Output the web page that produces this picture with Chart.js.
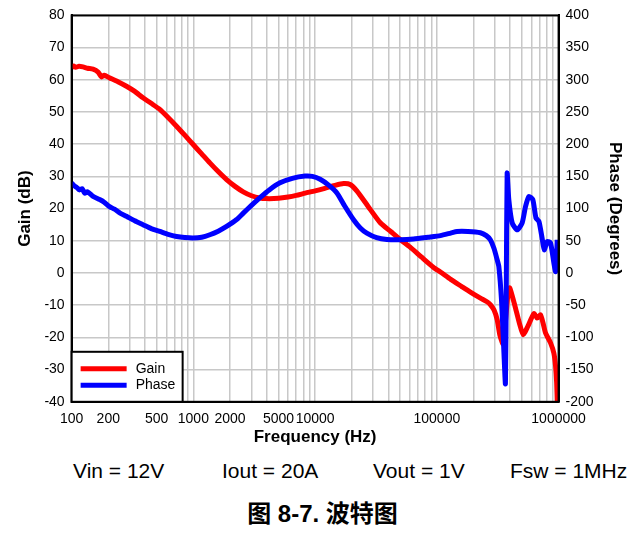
<!DOCTYPE html>
<html>
<head>
<meta charset="utf-8">
<script src="https://cdn.jsdelivr.net/npm/chart.js@4"></script>
<style>
  body { margin: 0; background: #fff; }
  #wrap { position: relative; width: 641px; height: 540px; font-family: "Liberation Sans", Arial, sans-serif; color: #000; }
  #chartBox { position: absolute; left: 0; top: 0; width: 641px; height: 450px; }
  .cond { position: absolute; top: 460px; font-size: 21px; line-height: 21px; white-space: nowrap; }
  #caption { position: absolute; left: 0; top: 502px; width: 645px; text-align: center; font-weight: bold;
             font-size: 24px; line-height: 24px; font-family: "Liberation Sans", "Noto Sans CJK SC", sans-serif; }
</style>
</head>
<body>
<div id="wrap">
  <div id="chartBox"><canvas id="bode"></canvas></div>
  <div class="cond" style="left:73px">Vin = 12V</div>
  <div class="cond" style="left:222px">Iout = 20A</div>
  <div class="cond" style="left:373px">Vout = 1V</div>
  <div class="cond" style="left:510px">Fsw = 1MHz</div>
  <div id="caption">图 8-7. 波特图</div>
</div>
<script>
// Gain curve (Hz, dB)
const gainFreq = [100, 104, 108, 115, 124, 135, 150, 165, 176, 185, 205, 240, 282, 330, 386, 450, 530, 620, 727, 850,
  996, 1170, 1366, 1600, 1874, 2200, 2570, 3000, 3500, 4000, 5000, 6000, 7000, 8300, 10000, 12000, 14500, 17100,
  19400, 22000, 27000, 34300, 42000, 50000, 60000, 75000, 93500, 107000, 130000, 160000, 190000, 228000, 260000,
  275000, 295000, 313000, 329000, 350000, 385000, 397000, 440000, 480000, 512000, 560000, 627000, 667000, 711000,
  745000, 781000, 859000, 915000, 945000, 964000, 975000];
const gainDb = [63.8, 64.3, 63.9, 64.2, 64.0, 63.6, 63.3, 62.4, 60.9, 61.4, 60.6, 59.4, 58.0, 56.4, 54.4, 52.7, 50.8, 48.3, 45.6, 42.8,
  39.9, 37.0, 34.2, 31.5, 29.0, 26.9, 25.2, 24.0, 23.3, 23.1, 23.2, 23.6, 24.1, 24.8, 25.5, 26.3, 27.2, 27.8,
  27.5, 25.5, 20.9, 15.6, 12.8, 10.4, 8.1, 4.9, 1.8, 0.3, -2.0, -4.2, -6.0, -7.8, -9.0,
  -9.8, -11.5, -14.5, -19.2, -22.0, -6.0, -4.6, -10.5, -16.0, -19.2, -16.5, -12.6, -14.0, -13.0,
  -15.5, -18.6, -21.7, -24.9, -29.0, -34.0, -40.0];

// Phase curve (Hz, degrees)
const phaseFreq = [100, 104, 110, 116, 122, 128, 135, 150, 170, 185, 205, 225, 250, 282, 330, 386, 450, 530, 620, 727,
  850, 996, 1170, 1366, 1600, 1874, 2265, 2570, 3000, 3526, 4200, 5150, 6500, 8270, 9500, 11000, 13000, 15100,
  17500, 20700, 23500, 26600, 32000, 38900, 50000, 64400, 85000, 107000, 130000, 146600, 180000, 228000, 255000,
  275000, 295000, 313000, 323000, 339600, 354800, 366000, 372000, 378000, 390000, 416000, 457000, 502000, 535000,
  570000, 614000, 652000, 690000, 732000, 762000, 808000, 859000, 915000, 945000, 975000];
const phaseDeg = [140, 136, 133, 129, 131, 124, 126, 119, 114, 110, 103, 99, 93, 88, 81, 75, 69, 64.5, 60, 56.7,
  55, 54.3, 55.5, 59.4, 65, 72.3, 83, 93, 105, 117, 129, 140, 147, 150.5, 150, 145.5, 136, 124.3,
  104, 82.7, 70, 62, 55, 52, 51.6, 52.7, 55.5, 58, 62, 64.5, 64.5, 62.5, 58,
  51.6, 38, 20.5, 10, -41.7, -119, -172, -20, 155, 114, 77.6, 67, 77.6, 103,
  118.6, 114, 85.4, 80, 54.3, 36, 49, 46.5, 15.4, 2.3, 51.6];

const xTickLabels = [100, 200, 500, 1000, 2000, 5000, 10000, 100000, 1000000];
const legendNames = ['Gain', 'Phase'];
const lineColors = ['#ff0000', '#0000ff'];

const gridColor = '#c8c8c8';
const font14 = { family: '"Liberation Sans", Arial, sans-serif', size: 14 };
const titleFont = { family: '"Liberation Sans", Arial, sans-serif', size: 17, weight: 'bold' };

// frame around plot + boxed legend at lower left
const framePlugin = {
  id: 'frameAndLegend',
  afterDatasetsDraw(chart) {
    const { ctx, chartArea: a } = chart;
    ctx.save();
    ctx.strokeStyle = '#000';
    ctx.lineWidth = 2;
    ctx.strokeRect(a.left, a.top, a.right - a.left, a.bottom - a.top);

    const bx = a.left, by = a.bottom - 50, bw = 111, bh = 50;
    ctx.fillStyle = '#fff';
    ctx.fillRect(bx, by, bw, bh);
    ctx.strokeRect(bx, by, bw, bh);
    ctx.font = '14px "Liberation Sans", Arial, sans-serif';
    ctx.textBaseline = 'middle';
    legendNames.forEach((name, i) => {
      const y = by + 17 + i * 16.5;
      ctx.strokeStyle = lineColors[i];
      ctx.lineWidth = 5;
      ctx.beginPath();
      ctx.moveTo(bx + 9, y);
      ctx.lineTo(bx + 55, y);
      ctx.stroke();
      ctx.fillStyle = '#000';
      ctx.fillText(name, bx + 64, y);
    });
    ctx.restore();
  }
};

const gridValues = [];
for (let d = 2; d < 6; d++) {
  for (let m = 1; m <= 9; m++) gridValues.push(m * Math.pow(10, d));
}
gridValues.push(1000000);

new Chart(document.getElementById('bode'), {
  type: 'line',
  data: {
    datasets: [
      {
        label: legendNames[0],
        data: gainFreq.map((f, i) => ({ x: f, y: gainDb[i] })),
        borderColor: lineColors[0],
        borderWidth: 5,
        pointRadius: 0,
        tension: 0.2,
        borderJoinStyle: 'round',
        yAxisID: 'y',
        order: 1
      },
      {
        label: legendNames[1],
        data: phaseFreq.map((f, i) => ({ x: f, y: phaseDeg[i] })),
        borderColor: lineColors[1],
        borderWidth: 5,
        pointRadius: 0,
        tension: 0.2,
        borderJoinStyle: 'round',
        yAxisID: 'y1',
        order: 0
      }
    ]
  },
  options: {
    responsive: true,
    maintainAspectRatio: false,
    animation: false,
    layout: { padding: { left: 15, right: 16, top: 9, bottom: 2 } },
    plugins: {
      legend: { display: false },
      tooltip: { enabled: false }
    },
    scales: {
      x: {
        type: 'logarithmic',
        min: 100,
        max: 1000000,
        afterBuildTicks: scale => { scale.ticks = gridValues.map(v => ({ value: v })); },
        ticks: {
          autoSkip: false,
          maxRotation: 0,
          minRotation: 0,
          padding: 9,
          color: '#000',
          font: font14,
          callback: v => xTickLabels.includes(v) ? String(v) : ''
        },
        grid: { color: gridColor, lineWidth: 1.5, drawTicks: false },
        border: { color: '#000', width: 2 },
        title: { display: true, text: 'Frequency (Hz)', color: '#000', font: titleFont, padding: { top: -9, bottom: 0 } }
      },
      y: {
        position: 'left',
        min: -40,
        max: 80,
        ticks: { stepSize: 10, padding: 7, color: '#000', font: font14 },
        grid: { color: gridColor, lineWidth: 1.5, drawTicks: false },
        border: { color: '#000', width: 2 },
        title: { display: true, text: 'Gain (dB)', color: '#000', font: titleFont, padding: { top: 0, bottom: 2 } }
      },
      y1: {
        position: 'right',
        min: -200,
        max: 400,
        ticks: { stepSize: 50, padding: 7, color: '#000', font: font14 },
        grid: { drawOnChartArea: false, drawTicks: false },
        border: { color: '#000', width: 2 },
        title: { display: true, text: 'Phase (Degrees)', color: '#000', font: titleFont, padding: { top: 0, bottom: 4 } }
      }
    }
  },
  plugins: [framePlugin]
});
</script>
</body>
</html>
